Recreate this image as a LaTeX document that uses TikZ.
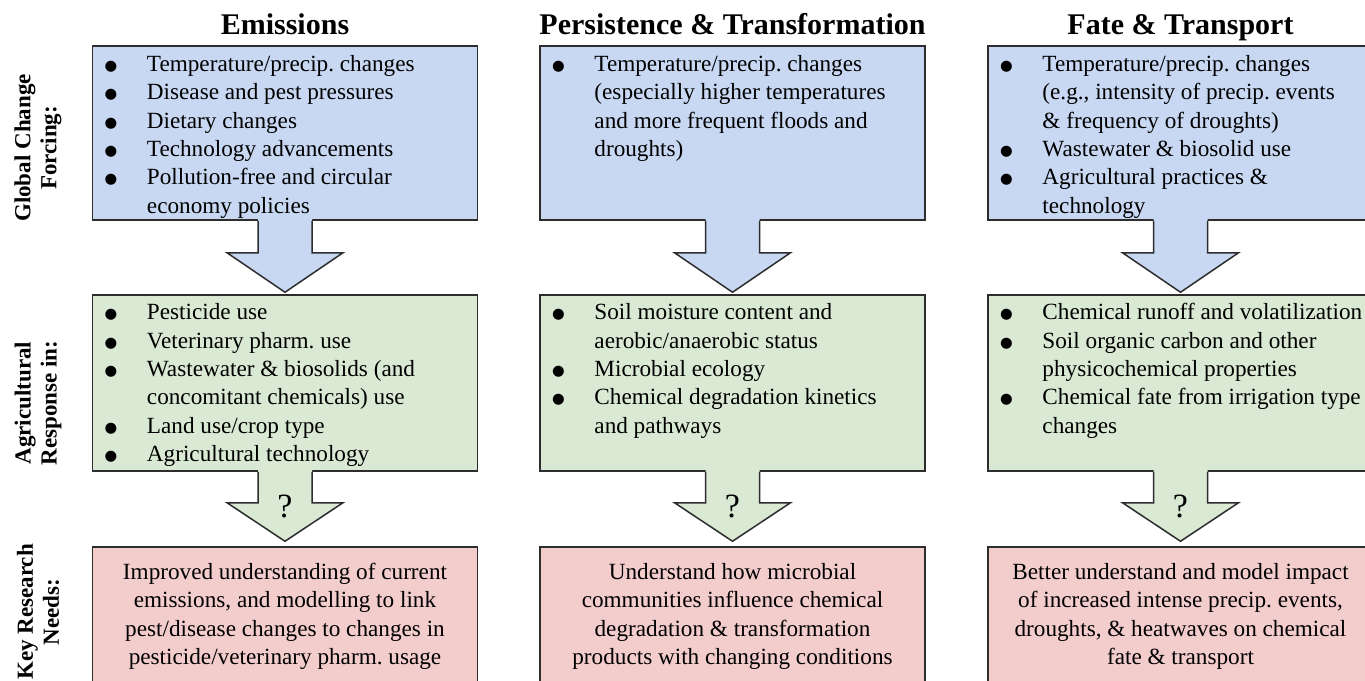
\documentclass[tikz,border=0pt]{standalone}
\usepackage{fontspec}
\setmainfont{Liberation Serif}
\newfontfamily\symfont{DejaVu Sans}
\usetikzlibrary{calc}
\frenchspacing
\definecolor{bluefill}{RGB}{200,216,243}
\definecolor{greenfill}{RGB}{217,233,211}
\definecolor{redfill}{RGB}{243,204,204}
\definecolor{edgecol}{RGB}{45,45,45}
\newcommand{\bodyfont}{\fontsize{23.2}{28.4}\selectfont}
\newcommand{\bigbul}{\smash{\raisebox{1pt}{\symfont\fontsize{14.5}{0}\selectfont ●}}}
\newcommand{\bi}{\strut\makebox[36pt][l]{\makebox[0pt][c]{\bigbul}}}
\newcommand{\ci}{\strut\makebox[36pt][l]{}}
% fat downward arrow: #1 from node, #2 to node, #3 fill colour, #4 head start below #1, #5 gap above #2
\newcommand{\fatarrow}[5]{%
  \fill[#3] ($(#1.south)+(-27,-1.6)$) -- ($(#1.south)+(-27,#4)$) -- ($(#1.south)+(-58,#4)$)
    -- ($(#2.north)+(0,-#5)$) -- ($(#1.south)+(58,#4)$) -- ($(#1.south)+(27,#4)$)
    -- ($(#1.south)+(27,-1.6)$) -- cycle;
  \draw[edge] ($(#1.south)+(-27,0)$) -- ($(#1.south)+(-27,#4)$) -- ($(#1.south)+(-58,#4)$)
    -- ($(#2.north)+(0,-#5)$) -- ($(#1.south)+(58,#4)$) -- ($(#1.south)+(27,#4)$)
    -- ($(#1.south)+(27,0)$);
}
\begin{document}
\begin{tikzpicture}[x=1pt, y=-1pt,
  edge/.style={draw=edgecol, line width=1.5pt, line join=miter},
  box/.style={rectangle, edge, minimum width=385pt, inner sep=0pt},
  bluebox/.style={box, fill=bluefill, minimum height=174pt},
  greenbox/.style={box, fill=greenfill, minimum height=176pt},
  redbox/.style={box, fill=redfill, minimum height=173pt},
  txt/.style={anchor=north west, inner sep=0pt, align=left, font=\bodyfont},
  rtxt/.style={anchor=north, inner sep=0pt, align=center, font=\bodyfont},
  title/.style={anchor=base, inner sep=0pt, font=\bfseries\fontsize{30}{36}\selectfont},
  rowlab/.style={rotate=90, align=center, inner sep=0pt, font=\bfseries\fontsize{23}{26}\selectfont},
  qmark/.style={anchor=base, inner sep=0pt, font=\fontsize{34}{40}\selectfont}]
\clip (0,0) rectangle (1365,680);
\fill[white] (0,0) rectangle (1365,680);

% titles
\node[title] (t1) at (285,34) {Emissions};
\node[title] (t2) at (732.5,34) {Persistence \& Transformation};
\node[title] (t3) at (1180.5,34) {Fate \& Transport};

% row labels
\node[rowlab] (l1) at (38,148) {Global Change\\Forcing:};
\node[rowlab] (l2) at (38,403) {Agricultural\\Response in:};
\node[rowlab] (l3) at (38,612) {Key Research\\Needs:};

% boxes
\node[bluebox] (b1) at (285,133) {};
\node[bluebox] (b2) at (732.5,133) {};
\node[bluebox] (b3) at (1180.5,133) {};
\node[greenbox] (g1) at (285,383) {};
\node[greenbox] (g2) at (732.5,383) {};
\node[greenbox] (g3) at (1180.5,383) {};
\node[redbox] (r1) at (285,633.5) {};
\node[redbox] (r2) at (732.5,633.5) {};
\node[redbox] (r3) at (1180.5,633.5) {};

% arrows
\fatarrow{b1}{g1}{bluefill}{32}{2}
\fatarrow{b2}{g2}{bluefill}{32}{2}
\fatarrow{b3}{g3}{bluefill}{32}{2}
\fatarrow{g1}{r1}{greenfill}{31}{5}
\fatarrow{g2}{r2}{greenfill}{31}{5}
\fatarrow{g3}{r3}{greenfill}{31}{5}

\node[qmark] (q1) at ($(g1.south)+(0,46)$) {?};
\node[qmark] (q2) at ($(g2.south)+(0,46)$) {?};
\node[qmark] (q3) at ($(g3.south)+(0,46)$) {?};

% blue texts
\node[txt] (bt1) at ($(b1.north west)+(19,6)$) {\bi Temperature/precip. changes\\
\bi Disease and pest pressures\\
\bi Dietary changes\\
\bi Technology advancements\\
\bi Pollution-free and circular\\
\ci economy policies};
\node[txt] (bt2) at ($(b2.north west)+(19,6)$) {\bi Temperature/precip. changes\\
\ci (especially higher temperatures\\
\ci and more frequent floods and\\
\ci droughts)};
\node[txt] (bt3) at ($(b3.north west)+(19,6)$) {\bi Temperature/precip. changes\\
\ci (e.g., intensity of precip. events\\
\ci \& frequency of droughts)\\
\bi Wastewater \& biosolid use\\
\bi Agricultural practices \&\\
\ci technology};

% green texts
\node[txt] (gt1) at ($(g1.north west)+(19,5.3)$) {\bi Pesticide use\\
\bi Veterinary pharm. use\\
\bi Wastewater \& biosolids (and\\
\ci concomitant chemicals) use\\
\bi Land use/crop type\\
\bi Agricultural technology};
\node[txt] (gt2) at ($(g2.north west)+(19,5.3)$) {\bi Soil moisture content and\\
\ci aerobic/anaerobic status\\
\bi Microbial ecology\\
\bi Chemical degradation kinetics\\
\ci and pathways};
\node[txt] (gt3) at ($(g3.north west)+(19,5.3)$) {\bi Chemical runoff and volatilization\\
\bi Soil organic carbon and other\\
\ci physicochemical properties\\
\bi Chemical fate from irrigation type\\
\ci changes};

% red texts
\node[rtxt] (rt1) at ($(r1.north)+(0,13)$) {\strut Improved understanding of current\\
emissions, and modelling to link\\
pest/disease changes to changes in\\
pesticide/veterinary pharm. usage};
\node[rtxt] (rt2) at ($(r2.north)+(0,13)$) {\strut Understand how microbial\\
communities influence chemical\\
degradation \& transformation\\
products with changing conditions};
\node[rtxt] (rt3) at ($(r3.north)+(0,13)$) {\strut Better understand and model impact\\
of increased intense precip. events,\\
droughts, \& heatwaves on chemical\\
fate \& transport};
\end{tikzpicture}
\end{document}
